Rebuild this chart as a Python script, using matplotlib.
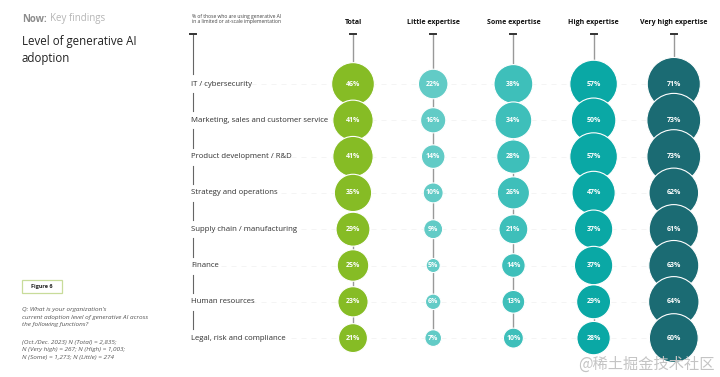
import matplotlib
matplotlib.use("Agg")
import matplotlib.pyplot as plt
from matplotlib.patches import Circle, Rectangle
import numpy as np

plt.rcParams['font.family'] = ['Open Sans', 'DejaVu Sans']

categories = ["IT / cybersecurity", "Marketing, sales and customer service",
              "Product development / R&D", "Strategy and operations",
              "Supply chain / manufacturing", "Finance", "Human resources",
              "Legal, risk and compliance"]
series_names = ["Total", "Little expertise", "Some expertise", "High expertise",
                "Very high expertise"]
total = [46, 41, 41, 35, 29, 25, 23, 21]
little = [22, 16, 14, 10, 9, 5, 6, 7]
some = [38, 34, 28, 26, 21, 14, 13, 10]
high = [57, 50, 57, 47, 37, 37, 29, 28]
very_high = [71, 73, 73, 62, 61, 63, 64, 60]
series = [total, little, some, high, very_high]
colors = ["#86bc25", "#62cbc6", "#3ebfba", "#0aa8a5", "#1b6b73"]

W, H = 720, 377
fig = plt.figure(figsize=(W / 100, H / 100), dpi=100)
ax = fig.add_axes([0, 0, 1, 1])
ax.set_xlim(0, W)
ax.set_ylim(H, 0)
ax.set_aspect('equal')
ax.axis('off')

col_x0, col_dx = 353, 80.2
row_y0, row_dy = 84, 36.3
k = 3.15  # radius scale (px per sqrt(%))
label_x = 191

# header texts
ax.text(22, 19, "Now:", fontsize=7, fontweight='bold', color='#8c8c8c', va='center')
ax.text(50, 19, "Key findings", fontsize=7, color='#b5b5b5', va='center')
ax.text(22, 50, "Level of generative AI\nadoption", fontsize=8.3, color='#222222',
        va='center', linespacing=1.45)
ax.text(192, 19, "% of those who are using generative AI\nin a limited or at-scale implementation",
        fontsize=3.6, color='#444444', va='center', linespacing=1.15)

# left column connector segments
ax.plot([193, 193], [34, row_y0 - 10], color='#666666', lw=0.8)
ax.plot([190, 196], [34, 34], color='#333333', lw=1.4)
for i in range(len(categories) - 1):
    y1 = row_y0 + i * row_dy + 9
    y2 = row_y0 + (i + 1) * row_dy - 9
    ax.plot([193, 193], [y1, y2], color='#666666', lw=0.8)

# category labels + faint guide lines
for i, c in enumerate(categories):
    y = row_y0 + i * row_dy
    ax.text(label_x, y, c, fontsize=5.6, color='#333333', va='center', ha='left')
    ax.plot([label_x, 700], [y, y], color='#f2f2f2', lw=0.6, ls=(0, (6, 6)), zorder=0)

# columns
for j, (name, vals, col) in enumerate(zip(series_names, series, colors)):
    x = col_x0 + j * col_dx
    ax.text(x, 23, name, fontsize=5.0, fontweight='bold', color='#111111', ha='center', va='center')
    ax.plot([x, x], [34, row_y0 + (len(vals) - 1) * row_dy], color='#999999', lw=1.0, zorder=1)
    ax.plot([x - 3, x + 3], [34, 34], color='#333333', lw=1.4, zorder=1)
    for i, v in enumerate(vals):
        y = row_y0 + i * row_dy
        r = k * np.sqrt(v)
        ax.add_patch(Circle((x, y), r, facecolor=col, edgecolor='white', lw=0.8, zorder=2 + i))
        ax.text(x, y, f"{v}%", fontsize=5.0, fontweight='bold', color='white',
                ha='center', va='center', zorder=20)

# figure box and notes
ax.add_patch(Rectangle((22, 280), 40, 13, facecolor='white', edgecolor='#c8dc9a', lw=0.9))
ax.text(42, 286.5, "Figure 6", fontsize=4.0, fontweight='bold', color='#222222', ha='center', va='center')
ax.text(22, 317, "Q: What is your organization's\ncurrent adoption level of generative AI across\nthe following functions?",
        fontsize=4.6, style='italic', color='#555555', va='center', linespacing=1.55)
ax.text(22, 350, "(Oct./Dec. 2023) N (Total) = 2,835;\nN (Very high) = 267; N (High) = 1,003;\nN (Some) = 1,273; N (Little) = 274",
        fontsize=4.6, style='italic', color='#555555', va='center', linespacing=1.55)

# watermark
ax.text(715, 364, "@稀土掘金技术社区", fontsize=11, color='#c4c4c4', ha='right', va='center',
        family=['Noto Sans CJK SC', 'DejaVu Sans'], zorder=30)

fig.savefig("out.png", dpi=100)
